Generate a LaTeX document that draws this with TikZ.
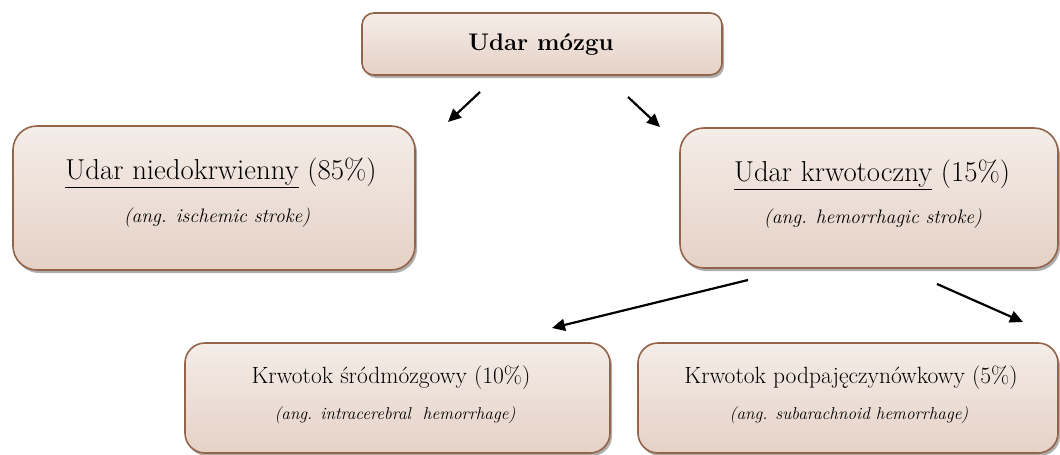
\documentclass[tikz,border=0pt]{standalone}
\usepackage{fontspec}
\usetikzlibrary{arrows.meta,shadows}
\definecolor{boxtop}{HTML}{F4EDE8}
\definecolor{boxbot}{HTML}{E5D1C6}
\definecolor{boxline}{HTML}{93644A}
\tikzset{
  boxnode/.style={draw=boxline, line width=1.6pt, top color=boxtop, bottom color=boxbot,
    drop shadow={shadow xshift=2pt, shadow yshift=-3pt, opacity=0.45, fill=black!70},
    inner sep=0pt},
  arr/.style={line width=2.2pt, -{Triangle[length=13pt,width=12pt]}},
  txt/.style={inner sep=0pt, anchor=center}
}
\begin{document}
\begin{tikzpicture}[x=1pt,y=-1pt]
\useasboundingbox (0,0) rectangle (1060,455);
\fill[white] (0,0) rectangle (1060,455);
% boxes
\node[boxnode, rounded corners=12pt, minimum width=360pt, minimum height=62pt] (top) at (542,44) {};
\node[boxnode, rounded corners=24pt, minimum width=402pt, minimum height=144pt] (left) at (214,198) {};
\node[boxnode, rounded corners=24pt, minimum width=378pt, minimum height=140pt] (right) at (869,198) {};
\node[boxnode, rounded corners=20pt, minimum width=425pt, minimum height=110pt] (bl) at (397.5,398) {};
\node[boxnode, rounded corners=20pt, minimum width=420pt, minimum height=110pt] (br) at (848,398) {};
% texts
\node[txt, font=\fontsize{24}{28}\selectfont\bfseries] (ttop) at (541,44) {Udar mózgu};
\node[txt, font=\fontsize{28.8}{33}\selectfont] (tleft) at (221,173) {\underline{Udar niedokrwienny} (85\%)};
\node[txt, font=\fontsize{19.5}{23}\selectfont\itshape] (sleft) at (217,218) {(ang. ischemic stroke)};
\node[txt, font=\fontsize{28.8}{33}\selectfont] (tright) at (872,175) {\underline{Udar krwotoczny} (15\%)};
\node[txt, font=\fontsize{19.5}{23}\selectfont\itshape] (sright) at (873,219) {(ang. hemorrhagic stroke)};
\node[txt, font=\fontsize{23.5}{27}\selectfont] (tbl) at (391,378) {Krwotok śródmózgowy (10\%)};
\node[txt, font=\fontsize{17.2}{20}\selectfont\itshape] (sbl) at (395,415) {(ang. intracerebral\ \ hemorrhage)};
\node[txt, font=\fontsize{23.5}{27}\selectfont] (tbr) at (851,378) {Krwotok podpajęczynówkowy (5\%)};
\node[txt, font=\fontsize{17.2}{20}\selectfont\itshape] (sbr) at (849,415) {(ang. subarachnoid hemorrhage)};
% arrow ends
\coordinate (a1s) at (480,92);  \coordinate (a1e) at (448,122);
\coordinate (a2s) at (628,97);  \coordinate (a2e) at (660,127);
\coordinate (a3s) at (748,280); \coordinate (a3e) at (552,328);
\coordinate (a4s) at (937,284); \coordinate (a4e) at (1023,322);
\draw[arr] (a1s) -- (a1e);
\draw[arr] (a2s) -- (a2e);
\draw[arr] (a3s) -- (a3e);
\draw[arr] (a4s) -- (a4e);
\end{tikzpicture}
\end{document}
